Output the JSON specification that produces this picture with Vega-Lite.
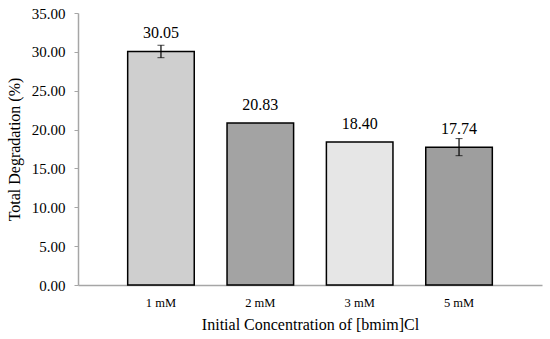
{
  "$schema": "https://vega.github.io/schema/vega-lite/v6.json",
  "autosize": {"type": "none"},
  "width": 464,
  "height": 272,
  "padding": {"left": 78, "top": 13, "right": 8, "bottom": 54},
  "background": "white",
  "config": {"view": {"stroke": null}, "font": "Liberation Serif"},
  "data": {"values": [
    {"conc": "1 mM", "value": 30.05, "err": 0.8, "shade": "a"},
    {"conc": "2 mM", "value": 20.83, "err": 0, "shade": "b"},
    {"conc": "3 mM", "value": 18.40, "err": 0, "shade": "c"},
    {"conc": "5 mM", "value": 17.74, "err": 1.1, "shade": "d"}
  ]},
  "encoding": {
    "x": {"field": "conc", "type": "nominal", "sort": null,
      "scale": {"paddingInner": 0.33, "paddingOuter": 0.5},
      "axis": {"title": "Initial Concentration of [bmim]Cl", "labelAngle": 0,
        "labelFont": "Liberation Serif", "labelFontSize": 12.5, "labelColor": "#000",
        "titleFont": "Liberation Serif", "titleFontSize": 16, "titleFontWeight": "normal", "titleColor": "#000",
        "ticks": false, "labelPadding": 11, "titlePadding": 8,
        "domainColor": "#a6a6a6", "domainWidth": 1.5}},
    "y": {"field": "value", "type": "quantitative",
      "title": "Total Degradation (%)",
      "scale": {"domain": [0, 35]},
      "axis": {"title": "Total Degradation (%)", "values": [0, 5, 10, 15, 20, 25, 30, 35], "format": ".2f",
        "grid": false, "labelFont": "Liberation Serif", "labelFontSize": 15, "labelColor": "#000",
        "titleFont": "Liberation Serif", "titleFontSize": 16, "titleFontWeight": "normal", "titleColor": "#000",
        "tickSize": 4, "tickColor": "#a6a6a6", "labelPadding": 9, "titlePadding": 9,
        "domainColor": "#a6a6a6", "domainWidth": 1.5}}
  },
  "layer": [
    {
      "mark": {"type": "bar", "stroke": "#000", "strokeWidth": 1.5},
      "encoding": {
        "fill": {"field": "shade", "type": "nominal",
          "scale": {"domain": ["a", "b", "c", "d"], "range": ["#cfcfcf", "#a3a3a3", "#e6e6e6", "#9e9e9e"]},
          "legend": null}
      }
    },
    {
      "transform": [{"filter": "datum.err > 0"}],
      "mark": {"type": "errorbar", "ticks": {"size": 7, "color": "#000", "strokeWidth": 1.2}, "rule": {"color": "#000", "strokeWidth": 1.2}, "color": "#000"},
      "encoding": {
        "yError": {"field": "err"}
      }
    },
    {
      "mark": {"type": "text", "baseline": "alphabetic", "dy": -13, "font": "Liberation Serif", "fontSize": 16, "color": "#000"},
      "encoding": {
        "text": {"field": "value", "type": "quantitative", "format": ".2f"}
      }
    }
  ]
}
